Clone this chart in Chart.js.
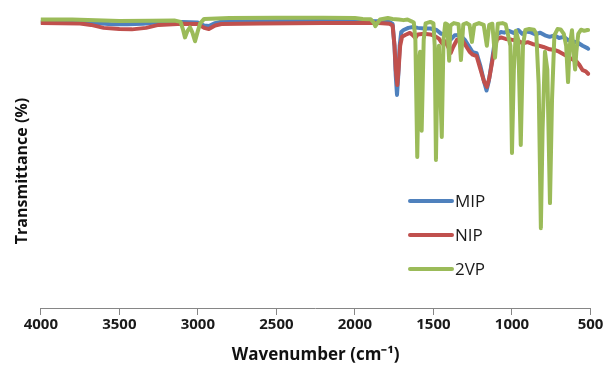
<!DOCTYPE html>
<html>
<head>
<meta charset="utf-8">
<script src="https://cdn.jsdelivr.net/npm/chart.js@4.4.0/dist/chart.umd.min.js"></script>
<style>
  html, body { margin: 0; padding: 0; background: #fff; }
  #wrap { width: 606px; height: 365px; }
</style>
</head>
<body>
<div id="wrap"><canvas id="irChart" width="606" height="365"></canvas></div>
<script>
// wavenumber (cm-1) / transmittance (%)
const mipWn = [4000, 3750, 3650, 3550, 3450, 3350, 3250, 3100, 3000, 2960, 2930, 2890, 2850, 2600, 2200, 2000, 1850, 1780, 1760, 1748, 1740, 1732, 1724, 1715, 1705, 1690, 1660, 1630, 1600, 1560, 1520, 1480, 1450, 1420, 1392, 1365, 1330, 1300, 1270, 1250, 1225, 1200, 1178, 1162, 1148, 1130, 1112, 1095, 1070, 1050, 1020, 990, 960, 935, 910, 880, 850, 820, 790, 760, 730, 700, 670, 640, 610, 580, 550, 520, 515];
const mipT = [96.0, 96.0, 95.6, 95.2, 95.2, 95.4, 95.9, 96.0, 95.8, 94.8, 94.6, 95.6, 96.1, 96.2, 96.3, 96.3, 96.2, 96.0, 95.3, 88, 78, 71.5, 78, 88, 92.6, 93.3, 94.0, 94.3, 94.0, 93.8, 93.8, 93.3, 92.0, 91.8, 90.0, 91.5, 91.6, 90.0, 87.5, 85.8, 85.5, 81, 76, 73.0, 76, 82, 88.5, 91.8, 92.6, 92.4, 93.0, 92.3, 93.3, 92.0, 92.8, 92.5, 91.8, 92.4, 91.5, 91.0, 91.5, 90.6, 91.0, 89.8, 89.5, 89.0, 88.0, 87.2, 87.0];

const nipWn = [4000, 3750, 3680, 3600, 3500, 3420, 3330, 3250, 3100, 3000, 2960, 2930, 2890, 2850, 2600, 2200, 2000, 1850, 1780, 1760, 1748, 1740, 1730, 1722, 1712, 1700, 1680, 1650, 1630, 1615, 1600, 1560, 1520, 1490, 1465, 1445, 1425, 1405, 1390, 1375, 1350, 1325, 1300, 1270, 1250, 1225, 1200, 1178, 1160, 1145, 1128, 1112, 1095, 1070, 1040, 1000, 965, 930, 900, 870, 840, 800, 760, 730, 700, 660, 620, 590, 570, 550, 530, 515];
const nipT = [95.6, 95.5, 95.0, 94.0, 93.6, 93.5, 94.0, 95.0, 95.4, 95.3, 94.0, 93.6, 94.8, 95.3, 95.5, 95.6, 95.6, 95.6, 95.4, 94.8, 88, 80, 74.8, 80, 88, 91, 91.6, 92.3, 91.5, 90.6, 91.8, 92.0, 91.8, 91.2, 90.4, 88.8, 89.5, 87.5, 85.6, 87.5, 90, 90.6, 88.5, 86, 85, 84.5, 80, 76, 74.2, 77, 82, 87, 90.2, 90.8, 90.3, 90, 89.8, 88.8, 89.2, 88.6, 88.2, 87.6, 86.8, 86.6, 86.0, 84.8, 83.6, 82.8, 81.5, 79.8, 79.4, 78.6];

const vpWn = [4000, 3800, 3650, 3500, 3300, 3150, 3110, 3095, 3082, 3066, 3050, 3035, 3018, 3000, 2985, 2960, 2800, 2500, 2200, 2000, 1950, 1900, 1880, 1870, 1858, 1840, 1790, 1760, 1720, 1690, 1665, 1640, 1625, 1615, 1603, 1592, 1585, 1575, 1562, 1550, 1520, 1500, 1492, 1484, 1474, 1465, 1447, 1436, 1425, 1412, 1400, 1392, 1370, 1340, 1325, 1310, 1290, 1270, 1255, 1240, 1210, 1180, 1160, 1145, 1125, 1108, 1090, 1060, 1040, 1010, 1000, 988, 975, 960, 944, 930, 915, 890, 860, 845, 830, 816, 805, 790, 775, 758, 745, 730, 710, 690, 670, 655, 643, 632, 618, 605, 598, 590, 578, 560, 540, 520, 515];
const vpT = [96.8, 96.8, 96.6, 96.3, 96.4, 96.5, 96.0, 93.5, 90.8, 93.0, 94.2, 92.5, 89.5, 93.0, 95.5, 97.0, 97.3, 97.4, 97.4, 97.3, 97.0, 96.9, 95.8, 94.6, 95.5, 96.8, 97.3, 97.0, 96.8, 96.6, 96.8, 96.2, 95.8, 90.0, 50.7, 83.0, 86, 59.5, 90, 95.5, 96.0, 95.5, 88, 49.7, 82, 88, 57.4, 90, 95.5, 95.2, 83, 94.8, 95.6, 95.2, 83.2, 95.2, 95.6, 95.0, 89.3, 95.0, 95.6, 95.0, 88, 95, 95.4, 84, 95.4, 95.6, 95.2, 88, 52.0, 80, 93.0, 90, 54.7, 88, 93.3, 93.6, 93.4, 92, 75, 26.8, 60, 86, 80, 35.2, 70, 91.5, 93.6, 93.5, 92, 88, 75.8, 88, 93.2, 84, 80, 86, 92.0, 93.4, 93.0, 93.3, 93.3];

const seriesNames = ["MIP", "NIP", "2VP"];
const seriesColors = ["#4F81BD", "#C0504D", "#9BBB59"];
const xTicks = [4000, 3500, 3000, 2500, 2000, 1500, 1000, 500];

function toPoints(wn, t) {
  return wn.map((w, i) => ({ x: w, y: t[i] }));
}

// legend drawn inside the plot, lines + text stacked like the original
const insideLegend = {
  id: "insideLegend",
  afterDraw(chart) {
    const ctx = chart.ctx;
    const rows = [201, 235, 269];
    ctx.save();
    chart.data.datasets.forEach((ds, i) => {
      const y = rows[i];
      ctx.strokeStyle = ds.borderColor;
      ctx.lineWidth = 4;
      ctx.lineCap = "round";
      ctx.beginPath();
      ctx.moveTo(410, y);
      ctx.lineTo(452, y);
      ctx.stroke();
      ctx.fillStyle = "#1a1a1a";
      ctx.font = "17px 'Open Sans'";
      ctx.textBaseline = "middle";
      ctx.textAlign = "left";
      ctx.fillText(ds.label, 455, y + 1);
    });
    ctx.restore();
  },
};

// y axis title (no ticks on this axis)
const yTitle = {
  id: "yTitle",
  afterDraw(chart) {
    const ctx = chart.ctx;
    ctx.save();
    ctx.translate(22, 171);
    ctx.rotate(-Math.PI / 2);
    ctx.fillStyle = "#111";
    ctx.font = "bold 16px 'Open Sans'";
    ctx.textAlign = "center";
    ctx.textBaseline = "middle";
    ctx.fillText("Transmittance (%)", 0, 0);
    ctx.restore();
  },
};

const ctx = document.getElementById("irChart").getContext("2d");
new Chart(ctx, {
  type: "line",
  data: {
    datasets: [
      { label: seriesNames[0], data: toPoints(mipWn, mipT), borderColor: seriesColors[0], order: 3 },
      { label: seriesNames[1], data: toPoints(nipWn, nipT), borderColor: seriesColors[1], order: 2 },
      { label: seriesNames[2], data: toPoints(vpWn, vpT), borderColor: seriesColors[2], order: 1 },
    ],
  },
  options: {
    responsive: false,
    animation: false,
    devicePixelRatio: 1,
    layout: { padding: { top: 10, right: 15.5, left: 0, bottom: 0 } },
    elements: {
      line: { borderWidth: 4, tension: 0, borderJoinStyle: "round", borderCapStyle: "round", fill: false },
      point: { radius: 0 },
    },
    plugins: {
      legend: { display: false },
      tooltip: { enabled: false },
    },
    scales: {
      x: {
        type: "linear",
        reverse: true,
        min: 500,
        max: 4000,
        afterBuildTicks: (scale) => {
          scale.ticks = xTicks.map((v) => ({ value: v }));
        },
        afterFit: (scale) => {
          scale.height = 57;
        },
        ticks: {
          callback: (v) => String(v),
          color: "#1a1a1a",
          font: { family: "'Open Sans'", size: 15, weight: "bold" },
          maxRotation: 0,
          padding: 1,
        },
        grid: { drawOnChartArea: false, drawTicks: true, tickLength: 7, color: "#868686", lineWidth: 1 },
        border: { display: true, color: "#868686", width: 1 },
        title: {
          display: true,
          text: "Wavenumber (cm\u207B\u00B9)",
          color: "#111",
          font: { family: "'Open Sans'", size: 17, weight: "bold" },
          padding: { top: 0, bottom: 0 },
        },
      },
      y: {
        min: 0,
        max: 100,
        afterFit: (scale) => {
          scale.width = 40.8;
        },
        ticks: { display: false },
        grid: { display: false },
        border: { display: false },
      },
    },
  },
  plugins: [insideLegend, yTitle],
});
</script>
</body>
</html>
